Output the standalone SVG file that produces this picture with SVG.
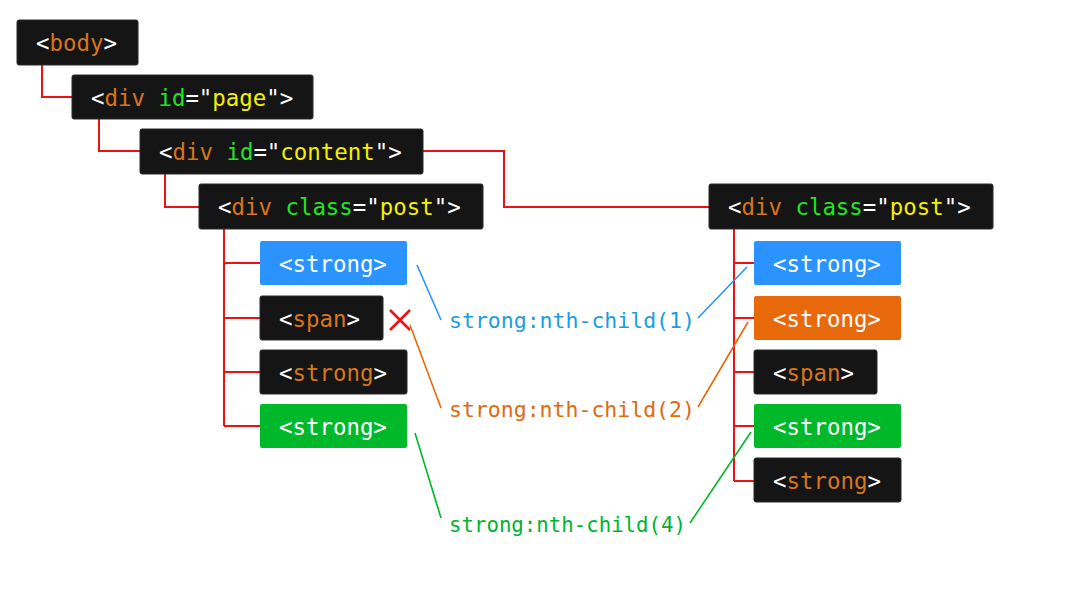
<svg xmlns="http://www.w3.org/2000/svg" width="1074" height="594" viewBox="0 0 1074 594">
<style>
.box{fill:#151515;stroke:#2a2a2a;stroke-width:1}
.blue{fill:#2a93ff}
.orange{fill:#e8690a}
.green{fill:#00b92a}
text{font-family:"DejaVu Sans Mono","Liberation Mono",monospace;font-size:22.4px;fill:#ffffff}
.t{fill:#d8761c}
.a{fill:#22e522}
.v{fill:#f5f000}
.lbl{font-size:21.5px}
.wire{fill:none;stroke:#ee1111;stroke-width:2}
</style>
<rect width="1074" height="594" fill="#ffffff"/>
<g id="connectors">
<path class="wire" d="M42 65V97H72M99 119V151H140M165 174V207H199M423 151H504V207H709"/>
<path class="wire" d="M224 229V426M224 263H260M224 318H260M224 372H260M224 426H260"/>
<path class="wire" d="M734 229V481M734 263H754M734 318H754M734 372H754M734 426H754M734 481H754"/>
<path d="M417 265L441 320M698 318L747 267" stroke="#2a93ff" stroke-width="1.6" fill="none"/>
<path d="M410 325L441 408M698 407L748 322" stroke="#e8690a" stroke-width="1.6" fill="none"/>
<path d="M415 433L441 518M690 523L751 432" stroke="#00b92a" stroke-width="1.6" fill="none"/>
<path d="M390 310L410 330M410 310L390 330" stroke="#ee1111" stroke-width="2.5" fill="none"/>
</g>
<g id="body"><rect class="box" x="17" y="20" width="121" height="45" rx="2"/><text x="36" y="51">&lt;<tspan class="t">body</tspan>&gt;</text></g>
<g id="div-page"><rect class="box" x="72" y="75" width="241" height="44" rx="2"/><text x="91" y="106">&lt;<tspan class="t">div</tspan> <tspan class="a">id</tspan>="<tspan class="v">page</tspan>"&gt;</text></g>
<g id="div-content"><rect class="box" x="140" y="129" width="283" height="45" rx="2"/><text x="159" y="160">&lt;<tspan class="t">div</tspan> <tspan class="a">id</tspan>="<tspan class="v">content</tspan>"&gt;</text></g>
<g id="div-post-left"><rect class="box" x="199" y="184" width="284" height="45" rx="2"/><text x="218" y="215">&lt;<tspan class="t">div</tspan> <tspan class="a">class</tspan>="<tspan class="v">post</tspan>"&gt;</text></g>
<g id="l-strong1"><rect class="blue" x="260" y="241" width="147" height="44" rx="2"/><text x="279" y="272">&lt;strong&gt;</text></g>
<g id="l-span"><rect class="box" x="260" y="296" width="123" height="44" rx="2"/><text x="279" y="327">&lt;<tspan class="t">span</tspan>&gt;</text></g>
<g id="l-strong3"><rect class="box" x="260" y="350" width="147" height="44" rx="2"/><text x="279" y="381">&lt;<tspan class="t">strong</tspan>&gt;</text></g>
<g id="l-strong4"><rect class="green" x="260" y="404" width="147" height="44" rx="2"/><text x="279" y="435">&lt;strong&gt;</text></g>
<g id="div-post-right"><rect class="box" x="709" y="184" width="284" height="45" rx="2"/><text x="728" y="215">&lt;<tspan class="t">div</tspan> <tspan class="a">class</tspan>="<tspan class="v">post</tspan>"&gt;</text></g>
<g id="r-strong1"><rect class="blue" x="754" y="241" width="147" height="44" rx="2"/><text x="773" y="272">&lt;strong&gt;</text></g>
<g id="r-strong2"><rect class="orange" x="754" y="296" width="147" height="44" rx="2"/><text x="773" y="327">&lt;strong&gt;</text></g>
<g id="r-span"><rect class="box" x="754" y="350" width="123" height="44" rx="2"/><text x="773" y="381">&lt;<tspan class="t">span</tspan>&gt;</text></g>
<g id="r-strong4"><rect class="green" x="754" y="404" width="147" height="44" rx="2"/><text x="773" y="435">&lt;strong&gt;</text></g>
<g id="r-strong5"><rect class="box" x="754" y="458" width="147" height="44" rx="2"/><text x="773" y="489">&lt;<tspan class="t">strong</tspan>&gt;</text></g>
<g id="labels">
<text class="lbl" x="449" y="328" style="fill:#1a9ee0">strong:nth-child(1)</text>
<text class="lbl" x="449" y="417" style="fill:#e06a10">strong:nth-child(2)</text>
<text class="lbl" x="449" y="532" textLength="237" lengthAdjust="spacingAndGlyphs" style="fill:#00b42e">strong:nth-child(4)</text>
</g>
</svg>
